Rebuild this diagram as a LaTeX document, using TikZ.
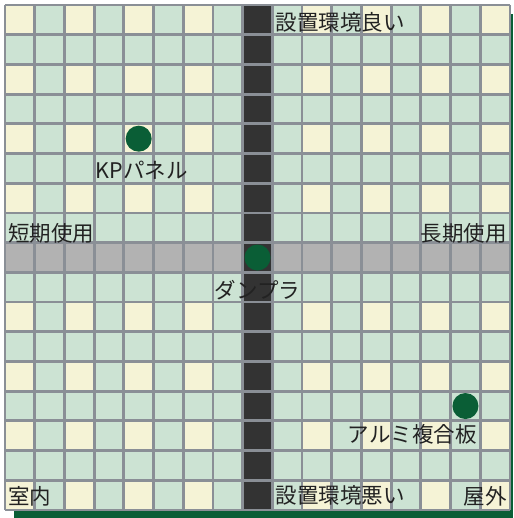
\documentclass[tikz,border=0pt]{standalone}
\usepackage{fontspec}
\newfontfamily\jpfont{Noto Sans CJK JP}
\usetikzlibrary{positioning}
\definecolor{cellgreen}{RGB}{204,227,211}
\definecolor{cellcream}{RGB}{245,243,214}
\definecolor{gridgray}{RGB}{138,143,150}
\definecolor{darkband}{RGB}{51,51,51}
\definecolor{grayband}{RGB}{178,178,178}
\definecolor{dotgreen}{RGB}{10,94,54}
\definecolor{labelgray}{RGB}{34,34,34}

\begin{document}
\begin{tikzpicture}
  [x=29.706pt, y=-29.706pt,
   item/.style={circle, fill=dotgreen, minimum size=26pt, inner sep=0pt},
   tag/.style={font=\jpfont\fontsize{21.5}{25}\selectfont, text=labelgray, inner sep=3pt}]
  \useasboundingbox (-0.168,-0.168) rectangle (17.101,17.269);
  % shadow, cells and bands
  \fill [dotgreen] (0.303,0.303) rectangle (17.101,17.269);
  \fill [cellgreen] (0,0) rectangle (17,17);
  \foreach \x in {0,2,...,16}
    \foreach \y in {0,2,...,16}
      \fill [cellcream] (\x,\y) rectangle +(1,1);
  \fill [grayband] (0,8) rectangle (17,9);
  \fill [darkband] (8,0) rectangle (9,17);
  \foreach \i in {0,...,17}{
    \draw [gridgray, line width=2.8pt] (\i,0) -- (\i,17);
    \draw [gridgray, line width=2.8pt] (0,\i) -- (17,\i);
  }
  % materials
  \node (kp) at (4.5,4.5) [item] {};
  \node (dan) at (8.5,8.5) [item] {};
  \node (alumi) at (15.5,13.5) [item] {};
  \node (kplabel) [tag, below=6pt of kp, xshift=3pt] {KPパネル};
  \node (danlabel) [tag, below=6pt of dan] {ダンプラ};
  \node (alumilabel) [tag, below=6pt of alumi.south east, anchor=north east, xshift=5pt] {アルミ複合板};
  % axis labels
  \node (good) at (9,0.6) [tag, anchor=west] {設置環境良い};
  \node (bad) at (9,16.5) [tag, anchor=west] {設置環境悪い};
  \node (short) at (0,7.7) [tag, anchor=west] {短期使用};
  \node (long) at (17,7.7) [tag, anchor=east] {長期使用};
  \node (indoor) at (0,16.55) [tag, anchor=west] {室内};
  \node (outdoor) at (17,16.55) [tag, anchor=east] {屋外};
\end{tikzpicture}
\end{document}
